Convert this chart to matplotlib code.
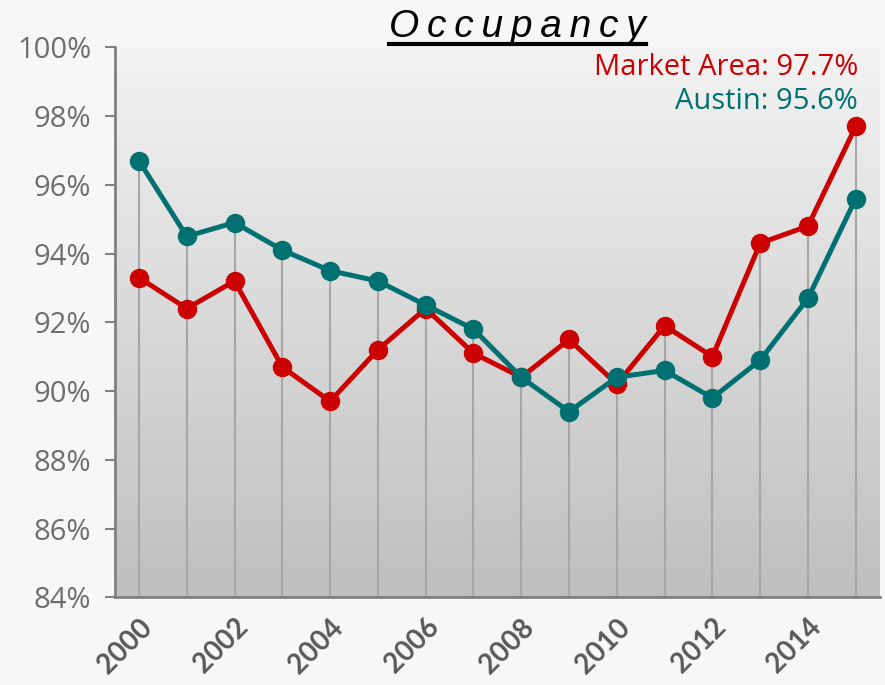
"""
Occupancy line chart - Market Area vs Austin
"""
import numpy as np
import matplotlib
matplotlib.use("Agg")
import matplotlib.pyplot as plt
from matplotlib.lines import Line2D

# ── Data ──────────────────────────────────────────────────────────────────────
years       = list(range(2000, 2016))
market_area = [93.3, 92.4, 93.2, 90.7, 89.7, 91.2, 92.4, 91.1,
               90.4, 91.5, 90.2, 91.9, 91.0, 94.3, 94.8, 97.7]
austin      = [96.7, 94.5, 94.9, 94.1, 93.5, 93.2, 92.5, 91.8,
               90.4, 89.4, 90.4, 90.6, 89.8, 90.9, 92.7, 95.6]
y_ticks     = list(range(84, 101, 2))
x_labels    = [str(y) if y % 2 == 0 else "" for y in years]

RED  = "#CC0000"
TEAL = "#007070"

# ── Figure ────────────────────────────────────────────────────────────────────
fig = plt.figure(figsize=(8.85, 6.85), dpi=100, facecolor="#f7f7f7")
ax = fig.add_axes([0.130, 0.128, 0.864, 0.803])
x = np.arange(len(years))

# gradient background
grad = np.linspace(0, 1, 256).reshape(-1, 1)
ax.imshow(grad, extent=[0, 1, 0, 1], transform=ax.transAxes, aspect="auto",
          cmap=matplotlib.colors.LinearSegmentedColormap.from_list(
              "bg", ["#f3f3f3", "#bfbfbf"]), zorder=0)
ax.set_facecolor("none")

# drop lines
tops = np.maximum(market_area, austin)
ax.vlines(x, 84, tops, color="#a6a6a6", lw=1.5, zorder=1)

ax.plot(x, market_area, color=RED, lw=3.6, marker="o", ms=13, zorder=3)
ax.plot(x, austin, color=TEAL, lw=3.6, marker="o", ms=13, zorder=4)

ax.set_xlim(-0.5, len(years) - 0.5)
ax.set_ylim(84, 100)
ax.set_yticks(y_ticks)
ax.set_yticklabels([f"{v}%" for v in y_ticks], fontsize=21, color="#6e6e6e",
                   family="Open Sans")
ax.set_xticks(x)
ax.set_xticklabels(x_labels, rotation=45, ha="right", va="top",
                   rotation_mode="anchor", fontsize=20, fontweight="bold",
                   color="#595959", family="Lato")
ax.tick_params(axis="x", length=0, pad=12)
ax.tick_params(axis="y", length=7, width=1.5, color="#808080", pad=10)

for s in ["top", "right"]:
    ax.spines[s].set_visible(False)
for s in ["left", "bottom"]:
    ax.spines[s].set_color("#808080")
    ax.spines[s].set_linewidth(2)

# annotations
ax.text(0.972, 0.99, f"Market Area: {market_area[-1]}%", transform=ax.transAxes,
        ha="right", va="top", fontsize=21, color=RED, family="Open Sans")
ax.text(0.972, 0.928, f"Austin: {austin[-1]}%", transform=ax.transAxes,
        ha="right", va="top", fontsize=21, color=TEAL, family="Open Sans")

# title with underline
title = fig.text(0.585, 0.96, "\u2009".join("Occupancy"), ha="center", va="center",
                 fontsize=28, style="italic", color="black",
                 family=["Liberation Sans", "DejaVu Sans"])
fig.canvas.draw()
bb = title.get_window_extent().transformed(fig.transFigure.inverted())
fig.add_artist(Line2D([bb.x0, bb.x1], [bb.y0 + 0.002, bb.y0 + 0.002],
                      transform=fig.transFigure, color="black", lw=3))

fig.savefig("out.png", dpi=100, facecolor=fig.get_facecolor())
